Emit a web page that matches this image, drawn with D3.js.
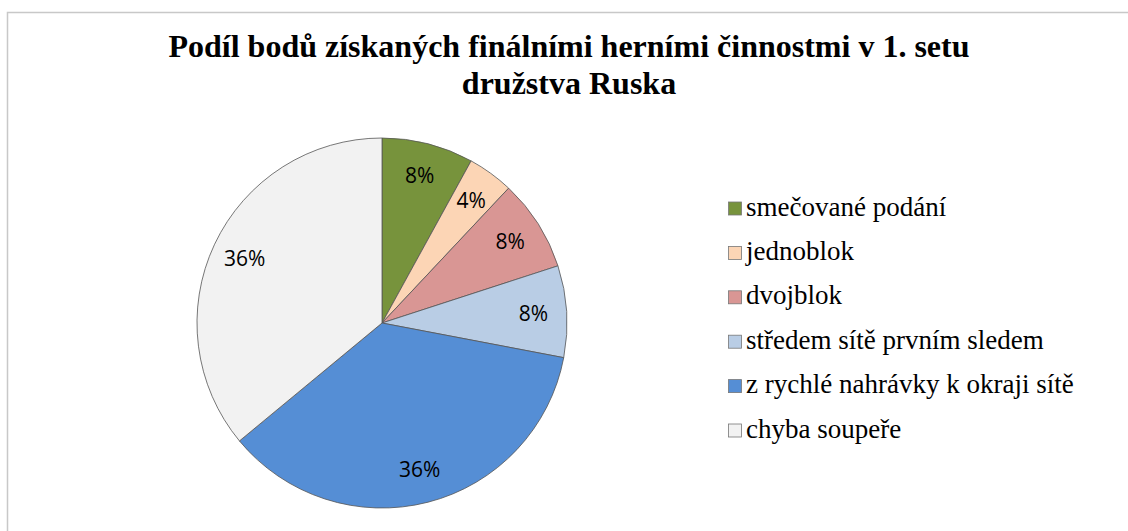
<!DOCTYPE html>
<meta charset="utf-8">
<html>
<head>
<style>
  body { margin: 0; background: #fff; }
</style>
</head>
<body>
<div id="chart"></div>
<script src="https://cdn.jsdelivr.net/npm/d3@7"></script>
<script>
  // data
  var categories = ["smečované podání", "jednoblok", "dvojblok",
                    "středem sítě prvním sledem", "z rychlé nahrávky k okraji sítě", "chyba soupeře"];
  var values = [2, 1, 2, 2, 9, 9];
  var colors = ["#77933C", "#FCD5B5", "#D99694", "#B9CDE5", "#558ED5", "#F2F2F2"];
  var titleLines = ["Podíl bodů získaných finálními herními činnostmi v 1. setu", "družstva Ruska"];

  var width = 1128, height = 531;
  var svg = d3.select("#chart").append("svg")
      .attr("width", width)
      .attr("height", height);

  // chart frame
  svg.append("rect")
      .attr("x", 7.5).attr("y", 12.5)
      .attr("width", width + 20).attr("height", height + 20)
      .attr("fill", "none")
      .attr("stroke", "#c8c8c8")
      .attr("stroke-width", 1.5);

  svg.append("g").selectAll("text")
    .data(titleLines)
    .enter().append("text")
      .attr("x", 569)
      .attr("y", function(d, i) { return 57 + i * 37; })
      .attr("text-anchor", "middle")
      .style("font-family", "'Liberation Serif', 'Times New Roman', serif")
      .style("font-weight", "bold")
      .style("font-size", "32px")
      .text(function(d) { return d; });

  var cx = 382, cy = 323, r = 185;
  var total = d3.sum(values);

  var pie = d3.pie().sort(null).value(function(d) { return d; });
  var arcs = pie(values);
  var arc = d3.arc().innerRadius(0).outerRadius(r);
  var labelArc = d3.arc().innerRadius(r * 0.82).outerRadius(r * 0.82);

  var g = svg.append("g").attr("transform", "translate(" + cx + "," + cy + ")");

  g.selectAll("path")
    .data(arcs)
    .enter().append("path")
      .attr("d", arc)
      .attr("fill", function(d, i) { return colors[i]; })
      .attr("stroke", "#555")
      .attr("stroke-width", 0.8);

  g.selectAll("text")
    .data(arcs)
    .enter().append("text")
      .attr("transform", function(d) { return "translate(" + labelArc.centroid(d) + ")"; })
      .attr("text-anchor", "middle")
      .attr("dy", "0.35em")
      .style("font-family", "'Open Sans', 'Liberation Sans', sans-serif")
      .style("font-size", "21px")
      .text(function(d) { return Math.round(d.value / total * 100) + "%"; });

  // legend
  var legend = svg.append("g").selectAll("g")
    .data(categories)
    .enter().append("g")
      .attr("transform", function(d, i) { return "translate(728," + (208 + i * 44.4) + ")"; });

  legend.append("rect")
      .attr("x", 0.5).attr("y", -6)
      .attr("width", 13).attr("height", 13)
      .attr("fill", function(d, i) { return colors[i]; })
      .attr("stroke", "#777")
      .attr("stroke-width", 0.8);

  legend.append("text")
      .attr("x", 18)
      .attr("y", 7.5)
      .style("font-family", "'Liberation Serif', 'Times New Roman', serif")
      .style("font-size", "27px")
      .text(function(d) { return d; });
</script>
</body>
</html>
